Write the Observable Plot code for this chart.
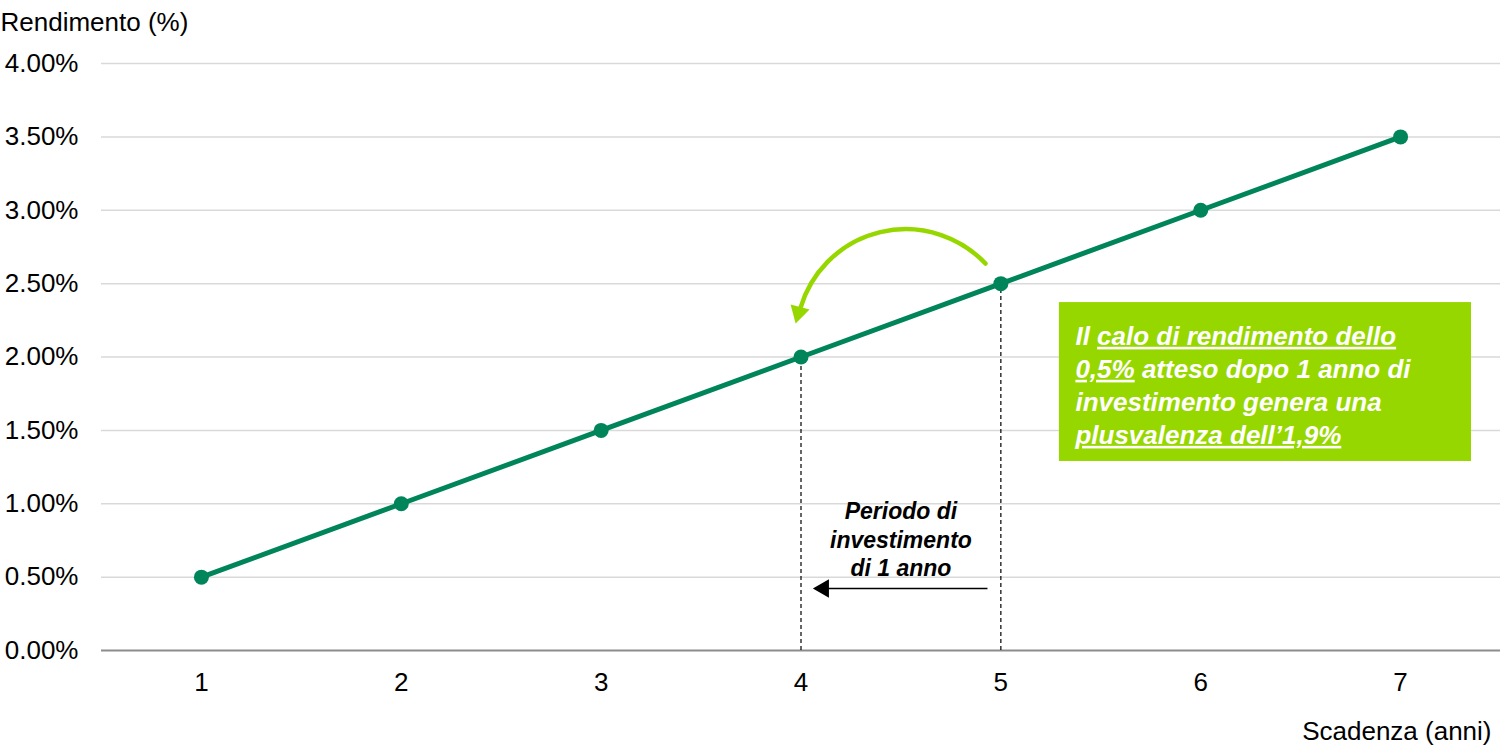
<!DOCTYPE html>
<html>
<head>
<meta charset="utf-8">
<script src="https://cdn.jsdelivr.net/npm/d3@7"></script>
<script src="https://cdn.jsdelivr.net/npm/@observablehq/plot@0.6"></script>
<style>
  html, body { margin: 0; padding: 0; background: #fff; }
  #chart svg { display: block; }
</style>
</head>
<body>
<div id="chart"></div>
<script>
// ---- data ----
const maturities = [1, 2, 3, 4, 5, 6, 7];            // Scadenza (anni)
const yields = [0.5, 1.0, 1.5, 2.0, 2.5, 3.0, 3.5];   // Rendimento (%)
const yTicks = [0, 0.5, 1, 1.5, 2, 2.5, 3, 3.5, 4];
const highlightYears = [4, 5];
const yAxisTitle = "Rendimento (%)";
const xAxisTitle = "Scadenza (anni)";
const periodLabel = "Periodo di\ninvestimento\ndi 1 anno";
const noteLines = ["Il calo di rendimento dello", "0,5% atteso dopo 1 anno di", "investimento genera una", "plusvalenza dell’1,9%"];
const noteUnderlined = ["calo di rendimento dello", "0,5%", "", "plusvalenza dell’1,9%"];

const curve = maturities.map((m, i) => ({m, y: yields[i]}));
const highlights = curve.filter(d => highlightYears.includes(d.m));

const darkGreen = "#00855A";
const lightGreen = "#97D700";
const font = "'Liberation Sans', Arial, sans-serif";

const noteY = [2.14, 1.915, 1.69, 1.465];

const plot = Plot.plot({
  width: 1500,
  height: 750,
  marginLeft: 101,
  marginRight: 0,
  marginTop: 63,
  marginBottom: 100,
  style: {fontFamily: font, fontSize: "26px", color: "#000", background: "#fff"},
  x: {domain: [0.5, 7.5]},
  y: {domain: [0, 4]},
  marks: [
    Plot.ruleY(yTicks.filter(t => t > 0), {stroke: "#d9d9d9", strokeWidth: 1.5}),
    Plot.ruleY([0], {stroke: "#8c8c8c", strokeWidth: 2}),
    Plot.axisY({ticks: yTicks, tickSize: 0, tickPadding: 23, tickFormat: d => d.toFixed(2) + "%", fontSize: 26, label: null}),
    Plot.axisX({ticks: maturities, tickSize: 0, tickPadding: 22, tickFormat: d => String(d), fontSize: 26, label: null}),
    // dashed drops
    Plot.ruleX(highlights, {x: "m", y1: 0, y2: "y", stroke: "#000", strokeWidth: 1.2, strokeDasharray: "4,3"}),
    // note box
    Plot.rect({length: 1}, {x1: 5.293, x2: 7.355, y1: 1.288, y2: 2.371, fill: lightGreen}),
    Plot.text(noteLines, {x: 5.373, y: (d, i) => noteY[i], text: d => d, textAnchor: "start", lineAnchor: "middle", fill: "#fff", fontSize: 26, fontWeight: "bold", fontStyle: "italic"}),
    // curve
    Plot.line(curve, {x: "m", y: "y", stroke: darkGreen, strokeWidth: 5}),
    Plot.dot(curve, {x: "m", y: "y", r: 7.5, fill: darkGreen, stroke: "none"}),
    // curved light green arrow
    Plot.arrow({length: 1}, {x1: 4.923, y1: 2.637, x2: 3.998, y2: 2.337, bend: -60, headLength: 0, stroke: lightGreen, strokeWidth: 4.5}),
    Plot.dot({length: 1}, {x: 3.988, y: 2.303, symbol: "triangle", r: 7.3, fill: lightGreen, stroke: "none", rotate: 195}),
    // black period arrow
    Plot.link({length: 1}, {x1: 4.933, x2: 4.11, y1: 0.4225, y2: 0.4225, stroke: "#000", strokeWidth: 1.3}),
    Plot.dot({length: 1}, {x: 4.113, y: 0.4225, symbol: "triangle", r: 6.9, fill: "#000", stroke: "none", rotate: -90}),
    Plot.text([periodLabel], {x: 4.5, y: 0.763, text: d => d, lineHeight: 1.22, fontSize: 23, fontWeight: "bold", fontStyle: "italic", fill: "#000"}),
    // axis titles
    Plot.text([yAxisTitle], {frameAnchor: "top-left", dx: -101, dy: -51, textAnchor: "start", text: d => d, fontSize: 26, fill: "#000"}),
    Plot.text([xAxisTitle], {frameAnchor: "bottom-right", dx: -9, dy: 89, textAnchor: "end", text: d => d, fontSize: 26, fill: "#000"})
  ]
});

// underline parts of the note lines
d3.select(plot).selectAll("text").each(function() {
  const el = d3.select(this);
  const txt = this.textContent;
  const idx = noteLines.indexOf(txt);
  if (idx < 0) return;
  const u = noteUnderlined[idx];
  if (!u) return;
  const start = txt.indexOf(u);
  const parts = [
    {t: txt.slice(0, start), u: false},
    {t: u, u: true},
    {t: txt.slice(start + u.length), u: false}
  ].filter(p => p.t.length);
  el.text(null);
  parts.forEach(p => {
    const ts = el.append("tspan").text(p.t);
    if (p.u) ts.attr("text-decoration", "underline").style("text-decoration", "underline");
  });
});

document.getElementById("chart").appendChild(plot);
</script>
</body>
</html>
